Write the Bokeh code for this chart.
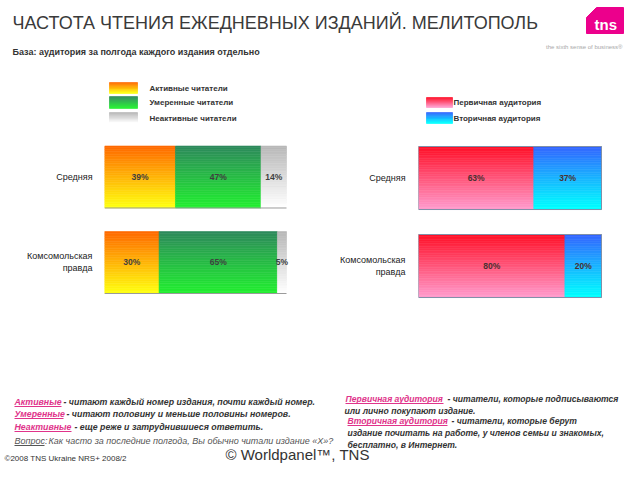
import numpy as np
from bokeh.plotting import figure
from bokeh.layouts import column, row
from bokeh.models import Range1d, FixedTicker
from bokeh.embed import file_html
from bokeh.resources import INLINE
from bokeh.core.properties import value

# ---------------- data ----------------
categories = ["Средняя", "Комсомольская правда"]
category_labels = ["Средняя", "Комсомольская\nправда"]

freq_series = ["Активные читатели", "Умеренные читатели", "Неактивные читатели"]
active = [39, 30]
moderate = [47, 65]
inactive = [14, 5]

aud_series = ["Первичная аудитория", "Вторичная аудитория"]
primary = [63, 80]
secondary = [37, 20]

title = "ЧАСТОТА ЧТЕНИЯ ЕЖЕДНЕВНЫХ ИЗДАНИЙ. МЕЛИТОПОЛЬ"
subtitle = "База: аудитория за полгода каждого издания отдельно"

FONT = "Liberation Sans"
DARK = "#333333"
PINK = "#E0338A"
FS = "8.8px"
FSR = "8.6px"

# gradient colours (top, bottom)
G_ACTIVE = ("#FF6A00", "#FFFF10")
G_MODERATE = ("#2E8A5C", "#22EE30")
G_INACTIVE = ("#B8B8B8", "#FFFFFF")
G_PRIMARY = ("#FF1028", "#FF9ACB")
G_SECONDARY = ("#3366FF", "#00FFFF")


def _rgb(h):
    return tuple(int(h[i:i + 2], 16) for i in (1, 3, 5))


def _mix(c1, c2, t):
    a, b = _rgb(c1), _rgb(c2)
    return "#%02x%02x%02x" % tuple(int(round(a[i] + (b[i] - a[i]) * t)) for i in range(3))


def grad(p, lefts, rights, ycs, h, cols, n=36):
    L, R, T, B, C = [], [], [], [], []
    for l, r, yc in zip(lefts, rights, ycs):
        for k in range(n):
            y0 = yc - h / 2 + k * h / n
            L.append(l)
            R.append(r)
            T.append(y0)
            B.append(y0 + h / n)
            C.append(_mix(cols[0], cols[1], k / (n - 1)))
    p.quad(left=L, right=R, top=T, bottom=B, fill_color=C, line_color=C, line_width=0.6)


def txt(p, x, y, s, size="8px", color=DARK, style="normal", align="left", font=FONT):
    p.text(x=[x], y=[y], text=[s], text_font=value(font), text_font_size=size,
           text_color=color, text_font_style=style, text_align=align, text_baseline="middle")


def blank(width, height, x0, x1, ytop, ybot):
    p = figure(width=width, height=height, x_range=Range1d(x0, x1), y_range=Range1d(ybot, ytop),
               output_backend="svg", toolbar_location=None, min_border=0,
               x_axis_location=None, y_axis_location=None)
    p.grid.visible = False
    p.outline_line_color = None
    p.background_fill_color = "white"
    p.border_fill_color = "white"
    return p


# ---------------- header (y 0..130) ----------------
hdr = blank(624, 130, 0, 624, 0, 130)
txt(hdr, 12, 22, title, size="18px", color="#3a3a3a")
txt(hdr, 12, 51, subtitle, size="9px", style="bold")
# logo
hdr.patch(x=[586, 596, 623, 623, 586], y=[17, 7, 7, 33, 33], fill_color="#EC008C", line_color="#EC008C")
txt(hdr, 594, 24, "tns", size="15px", color="white", style="bold")
txt(hdr, 622, 46, "the sixth sense of business\u00ae", size="6px", color="#A8A8A8", align="right")
# legends
for (y0, y1), cols, name in zip([(82, 93), (96, 108), (112, 123)], [G_ACTIVE, G_MODERATE, G_INACTIVE], freq_series):
    grad(hdr, [109], [137], [(y0 + y1) / 2], y1 - y0, cols, n=12)
    txt(hdr, 149, (y0 + y1) / 2, name, size="8px", style="bold")
for (y0, y1), cols, name in zip([(97, 107), (112, 123)], [G_PRIMARY, G_SECONDARY], aud_series):
    grad(hdr, [426], [452], [(y0 + y1) / 2], y1 - y0, cols, n=12)
    txt(hdr, 453, (y0 + y1) / 2, name, size="8px", style="bold")


# ---------------- charts (y 130..358) ----------------
def chart(series, grads, border_left, frame_w, bar_px, ytop, ybot, h, standoff, label_color):
    p = figure(width=312, height=228, x_range=Range1d(0, frame_w / bar_px * 100),
               y_range=Range1d(ybot, ytop), output_backend="svg", toolbar_location=None,
               min_border_left=border_left, min_border_right=0, min_border_top=0, min_border_bottom=0,
               x_axis_location=None, y_axis_location="left")
    p.grid.visible = False
    p.outline_line_color = None
    ax = p.yaxis[0]
    ax.ticker = FixedTicker(ticks=list(range(len(categories))))
    ax.major_label_overrides = {i: lab for i, lab in enumerate(category_labels)}
    ax.axis_line_color = None
    ax.major_tick_line_color = None
    ax.minor_tick_line_color = None
    ax.major_label_text_font = FONT
    ax.major_label_text_font_size = "9px"
    ax.major_label_text_color = "#222222"
    ax.major_label_standoff = standoff
    ycs = np.arange(len(categories))
    vals = np.array(series, dtype=float)
    cum = np.cumsum(vals, axis=0)
    starts = cum - vals
    for s, e, v, g in zip(starts, cum, vals, grads):
        grad(p, s, e, ycs, h, g)
        p.text(x=(s + e) / 2, y=ycs, text=["%d%%" % x for x in v], text_font=value(FONT),
               text_font_size="8.5px", text_font_style="bold", text_color=label_color,
               text_align="center", text_baseline="middle")
    return p, ycs, cum[-1]


left, lycs, ltot = chart([active, moderate, inactive], [G_ACTIVE, G_MODERATE, G_INACTIVE],
                         104, 208, 182, -0.544, 2.123, 0.725, 6, "#3f3f3f")
left.segment(x0=[0] * len(lycs), x1=ltot, y0=lycs + 0.3625, y1=lycs + 0.3625, line_color="#9a9a9a", line_width=1)

right, rycs, rtot = chart([primary, secondary], [G_PRIMARY, G_SECONDARY],
                          106, 206, 183, -0.540, 2.051, 0.716, 7, "#4a3030")
right.quad(left=[0] * len(rycs), right=rtot, top=rycs - 0.358, bottom=rycs + 0.358,
           fill_color=None, line_color="#8090a8", line_width=1)

# ---------------- footer (y 358..464) ----------------
ftr = blank(624, 106, 0, 624, 358, 464)


def pink_word(x0, x1, y, s, size=FS):
    txt(ftr, x0, y, s, size=size, color=PINK, style="bold italic")
    ftr.segment(x0=[x0], x1=[x1], y0=[y + 5], y1=[y + 5], line_color=PINK, line_width=1)


pink_word(14, 61, 401, "Активные")
txt(ftr, 63, 401, " - читают каждый номер издания, почти каждый номер.", size=FS, style="bold italic")
pink_word(14, 63, 413, "Умеренные")
txt(ftr, 66, 413, "- читают половину и меньше  половины номеров.", size=FS, style="bold italic")
pink_word(14, 71, 426, "Неактивные")
txt(ftr, 74, 426, "- еще реже и затруднившиеся ответить.", size=FS, style="bold italic")
txt(ftr, 14, 440, "Вопрос:", size="9px", color="#555555", style="italic")
ftr.segment(x0=[14], x1=[44], y0=[445], y1=[445], line_color="#555555", line_width=1)
txt(ftr, 48, 440, "Как часто за последние полгода, Вы обычно читали издание «Х»?", size="9px",
    color="#555555", style="italic")

pink_word(345, 443, 398, "Первичная аудитория", size=FSR)
txt(ftr, 447, 398, "- читатели, которые подписываются", size=FSR, style="bold italic")
txt(ftr, 344, 410, "или лично покупают издание.", size=FSR, style="bold italic")
pink_word(347, 447, 420, "Вторичная аудитория", size=FSR)
txt(ftr, 451, 420, "- читатели, которые берут", size=FSR, style="bold italic")
txt(ftr, 347, 432, "издание почитать на работе, у членов семьи и знакомых,", size=FSR, style="bold italic")
txt(ftr, 347, 444, "бесплатно, в Интернет.", size=FSR, style="bold italic")

txt(ftr, 4, 458, "©2008 TNS Ukraine  NRS+ 2008/2", size="8px")
txt(ftr, 225, 454, "© Worldpanel™, TNS", size="15px", color="#333333")

layout = column(hdr, row(left, right, spacing=0), ftr, spacing=0)
open("out.html", "w").write(file_html(layout, INLINE))
